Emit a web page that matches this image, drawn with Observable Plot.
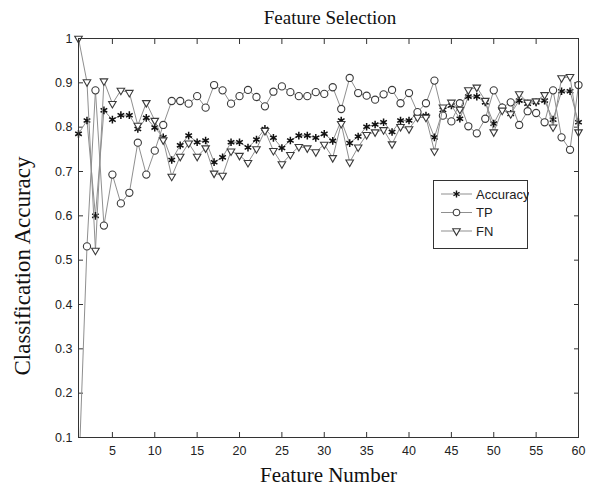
<!DOCTYPE html>
<html><head><meta charset="utf-8">
<script src="https://cdn.jsdelivr.net/npm/d3@7"></script>
<script src="https://cdn.jsdelivr.net/npm/@observablehq/plot@0.6"></script>
<style>
body{margin:0;background:#fff;}
#wrap{position:relative;width:591px;height:493px;overflow:hidden;background:#fff;}
#title{height:30px;width:660px;text-align:center;font-family:"Liberation Serif","Times New Roman",serif;font-size:19px;line-height:19px;padding-top:8px;box-sizing:border-box;color:#111;}
#legend{position:absolute;left:433px;top:180px;}
</style></head>
<body>
<div id="wrap">
<div id="title">Feature Selection</div>
<div id="chart"></div>
<svg id="legend" width="96" height="70"></svg>
</div>
<script>
const features = d3.range(1, 61);
const accuracy = [0.785,0.815,0.600,0.838,0.817,0.827,0.827,0.796,0.821,0.799,
0.777,0.726,0.759,0.781,0.766,0.770,0.721,0.732,0.766,0.766,
0.754,0.772,0.796,0.776,0.753,0.770,0.781,0.781,0.776,0.785,
0.769,0.815,0.764,0.779,0.801,0.806,0.811,0.789,0.815,0.815,
0.832,0.826,0.777,0.839,0.849,0.819,0.869,0.869,0.856,0.808,
0.845,0.830,0.860,0.853,0.856,0.860,0.817,0.881,0.881,0.811];
const tp = [0.000,0.531,0.883,0.578,0.693,0.628,0.652,0.765,0.693,0.747,
0.805,0.859,0.859,0.853,0.870,0.844,0.895,0.883,0.853,0.870,
0.884,0.868,0.847,0.880,0.892,0.879,0.870,0.870,0.879,0.875,
0.890,0.841,0.911,0.877,0.871,0.862,0.874,0.884,0.854,0.877,
0.834,0.854,0.905,0.826,0.813,0.854,0.802,0.786,0.819,0.883,
0.844,0.856,0.805,0.836,0.832,0.811,0.883,0.777,0.749,0.895];
const fn = [1.000,0.902,0.522,0.904,0.853,0.883,0.878,0.804,0.855,0.815,
0.771,0.689,0.734,0.764,0.734,0.753,0.696,0.691,0.746,0.736,
0.720,0.751,0.792,0.747,0.717,0.738,0.756,0.753,0.744,0.761,
0.731,0.808,0.721,0.755,0.783,0.789,0.794,0.762,0.801,0.796,
0.822,0.822,0.746,0.845,0.856,0.840,0.884,0.890,0.860,0.789,
0.838,0.830,0.875,0.856,0.859,0.873,0.800,0.911,0.914,0.789];
const xTicks = [5,10,15,20,25,30,35,40,45,50,55,60];
const yTicks = [0.1,0.2,0.3,0.4,0.5,0.6,0.7,0.8,0.9,1];
const seriesNames = ["Accuracy","TP","FN"];

const triangleDown = {
  draw(ctx, size) {
    const h = Math.sqrt(size / (Math.sqrt(3) * 3));
    ctx.moveTo(0, 2 * h);
    ctx.lineTo(-Math.sqrt(3) * h, -h);
    ctx.lineTo(Math.sqrt(3) * h, -h);
    ctx.closePath();
  }
};

const rows = (vals) => vals.map((v, i) => ({x: features[i], y: v}));
const A = rows(accuracy), T = rows(tp), F = rows(fn);
const lineColor = "#8f8f8f";
const yFmt = d => d === 1 ? "1" : d3.format(".1f")(d);
const inFrame = d => d.y >= 0.1;

const chart = Plot.plot({
  width: 591, height: 463,
  marginTop: 8, marginBottom: 56, marginLeft: 78, marginRight: 13,
  x: {domain: [1, 60]},
  y: {domain: [0.1, 1]},
  style: {fontFamily: "'Liberation Sans', Arial, sans-serif", fontSize: "12.5px", color: "#222", background: "white"},
  marks: [
    Plot.axisX({ticks: xTicks, tickSize: 0, tickPadding: 9, label: null}),
    Plot.axisX({ticks: xTicks, tickSize: -5, fill: "none", label: null, stroke: "#333"}),
    Plot.axisX({ticks: xTicks, anchor: "top", tickSize: -5, fill: "none", label: null, stroke: "#333"}),
    Plot.axisY({ticks: yTicks, tickSize: 0, tickPadding: 6, tickFormat: yFmt, label: null}),
    Plot.axisY({ticks: yTicks, tickSize: -5, fill: "none", label: null, stroke: "#333"}),
    Plot.axisY({ticks: yTicks, anchor: "right", tickSize: -5, fill: "none", label: null, stroke: "#333"}),
    Plot.line(A, {x: "x", y: "y", stroke: lineColor, strokeWidth: 1}),
    Plot.dot(A, {x: "x", y: "y", symbol: "asterisk", r: 3.6, stroke: "#111", strokeWidth: 1.5}),
    Plot.line(T, {x: "x", y: "y", stroke: lineColor, strokeWidth: 1, clip: true}),
    Plot.dot(T, {filter: inFrame, x: "x", y: "y", symbol: "circle", r: 3.6, stroke: "#3a3a3a", fill: "white", strokeWidth: 1.1}),
    Plot.line(F, {x: "x", y: "y", stroke: lineColor, strokeWidth: 1}),
    Plot.dot(F, {x: "x", y: "y", symbol: triangleDown, r: 2.8, stroke: "#3a3a3a", fill: "white", strokeWidth: 1.1}),
    Plot.frame({stroke: "#333", strokeWidth: 1}),
    Plot.text(["Feature Number"], {frameAnchor: "bottom", dy: 44, fontSize: 21, fontFamily: "'Liberation Serif', 'Times New Roman', serif", fill: "#111"}),
    Plot.text(["Classification Accuracy"], {frameAnchor: "left", textAnchor: "middle", dx: -56, dy: 28, rotate: -90, fontSize: 23, fontFamily: "'Liberation Serif', 'Times New Roman', serif", fill: "#111"})
  ]
});
document.getElementById("chart").appendChild(chart);

// legend
const lg = d3.select("#legend");
lg.append("rect").attr("x", 0.5).attr("y", 0.5).attr("width", 94).attr("height", 68)
  .attr("fill", "white").attr("stroke", "#333");
const syms = [d3.symbolAsterisk, d3.symbolCircle, triangleDown];
const sizes = [3.3*3.3*Math.PI, 3.3*3.3*Math.PI, 2.8*2.8*Math.PI];
seriesNames.forEach((name, i) => {
  const cy = 14 + i * 18.5;
  lg.append("line").attr("x1", 8).attr("x2", 39).attr("y1", cy).attr("y2", cy).attr("stroke", lineColor);
  lg.append("path").attr("transform", `translate(23.5,${cy})`)
    .attr("d", d3.symbol(syms[i], sizes[i])())
    .attr("fill", i === 0 ? "none" : "white").attr("stroke", i === 0 ? "#111" : "#3a3a3a").attr("stroke-width", i === 0 ? 1.4 : 1.1);
  lg.append("text").attr("x", 43).attr("y", cy).attr("dy", "0.35em")
    .attr("font-family", "'Liberation Sans', Arial, sans-serif").attr("font-size", 13).attr("fill", "#222").text(name);
});
</script>
</body></html>
